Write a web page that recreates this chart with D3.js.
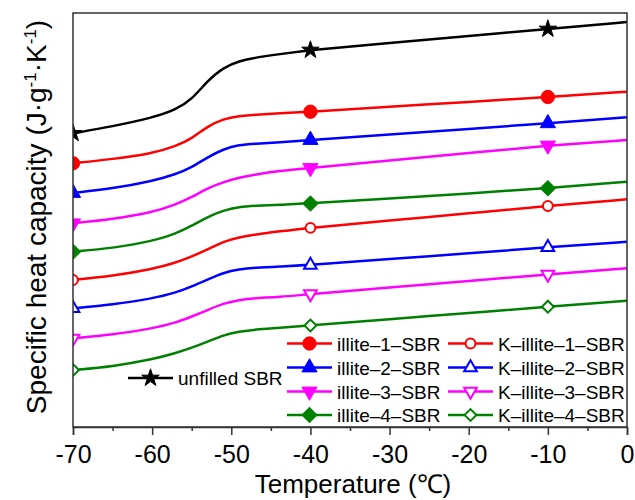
<!DOCTYPE html>
<html>
<head>
<meta charset="utf-8">
<script src="https://cdn.jsdelivr.net/npm/d3@7"></script>
<style>
  body { margin: 0; background: #fff; }
  text { font-family: Arial, "Liberation Sans", sans-serif; }
</style>
</head>
<body>
<div id="chart"></div>
<script>
const temps = [-70, -65, -60, -57, -55, -53, -51, -49, -47, -44, -40, -30, -20, -10, 0];
// specific heat capacity, arbitrary offset units (curves are stacked)
const unfilledSBR = [2.937, 3.006, 3.092, 3.172, 3.274, 3.462, 3.595, 3.66, 3.694, 3.727, 3.77, 3.84, 3.91, 3.98, 4.05];
const illite1 = [2.637, 2.679, 2.735, 2.808, 2.884, 3.007, 3.081, 3.109, 3.123, 3.137, 3.153, 3.202, 3.251, 3.30, 3.353];
const illite2 = [2.34, 2.384, 2.458, 2.528, 2.596, 2.698, 2.779, 2.823, 2.833, 2.847, 2.87, 2.926, 2.981, 3.037, 3.097];
const illite3 = [2.037, 2.079, 2.145, 2.225, 2.297, 2.389, 2.448, 2.495, 2.525, 2.56, 2.59, 2.665, 2.74, 2.815, 2.87];
const illite4 = [1.753, 1.788, 1.858, 1.933, 2.012, 2.10, 2.167, 2.201, 2.211, 2.224, 2.235, 2.286, 2.336, 2.387, 2.453];
const kIllite1 = [1.47, 1.51, 1.578, 1.643, 1.705, 1.774, 1.854, 1.898, 1.925, 1.956, 1.992, 2.065, 2.137, 2.21, 2.277];
const kIllite2 = [1.187, 1.224, 1.284, 1.343, 1.405, 1.474, 1.544, 1.578, 1.593, 1.605, 1.62, 1.679, 1.738, 1.797, 1.853];
const kIllite3 = [0.887, 0.924, 0.984, 1.043, 1.105, 1.169, 1.237, 1.271, 1.29, 1.299, 1.33, 1.396, 1.461, 1.527, 1.587];
const kIllite4 = [0.57, 0.605, 0.675, 0.74, 0.792, 0.852, 0.92, 0.954, 0.975, 0.99, 1.015, 1.078, 1.14, 1.203, 1.263];

const markerTemps = [-70, -40, -10];
const xTicks = [-70, -60, -50, -40, -30, -20, -10, 0];
const xMinorTicks = [-65, -55, -45, -35, -25, -15, -5];

const seriesNames = ["unfilled SBR", "illite\u20131\u2013SBR", "illite\u20132\u2013SBR", "illite\u20133\u2013SBR", "illite\u20134\u2013SBR",
    "K\u2013illite\u20131\u2013SBR", "K\u2013illite\u20132\u2013SBR", "K\u2013illite\u20133\u2013SBR", "K\u2013illite\u20134\u2013SBR"];
const seriesValues = [unfilledSBR, illite1, illite2, illite3, illite4, kIllite1, kIllite2, kIllite3, kIllite4];
const seriesColors = ["#000000", "#ff0000", "#0000ff", "#ff00ff", "#008000", "#ff0000", "#0000ff", "#ff00ff", "#008000"];
const seriesMarkers = ["star", "circle", "triangle", "triangleDown", "diamond", "circle", "triangle", "triangleDown", "diamond"];
const seriesFilled = [true, true, true, true, true, false, false, false, false];

const W = 635, H = 500;
const margin = {top: 13, right: 8, bottom: 73, left: 73};
const width = W - margin.left - margin.right;
const height = H - margin.top - margin.bottom;

var svg = d3.select("#chart").append("svg")
    .attr("width", W)
    .attr("height", H);

var xScale = d3.scaleLinear().domain([-70, 0]).range([0, width]);
var yScale = d3.scaleLinear().domain([0, 4.14]).range([height, 0]);

var g = svg.append("g")
    .attr("transform", "translate(" + margin.left + "," + margin.top + ")");

g.append("clipPath").attr("id", "plotclip")
    .append("rect").attr("x", 0).attr("y", 0).attr("width", width).attr("height", height);

function markerPath(type, filled) {
    var sym, size;
    if (type == "star") { sym = d3.symbolStar; size = 95; }
    else if (type == "circle") { sym = d3.symbolCircle; size = filled ? 140 : 75; }
    else if (type == "triangle" || type == "triangleDown") { sym = d3.symbolTriangle; size = filled ? 100 : 70; }
    else { sym = d3.symbolSquare; size = filled ? 115 : 70; }
    return d3.symbol().type(sym).size(size)();
}
function markerRotate(type) {
    if (type == "triangleDown") return 180;
    if (type == "diamond") return 45;
    return 0;
}

var line = d3.line()
    .x(function(d) { return xScale(d[0]); })
    .y(function(d) { return yScale(d[1]); })
    .curve(d3.curveBasis);

var plot = g.append("g").attr("clip-path", "url(#plotclip)");

seriesValues.forEach(function(vals, i) {
    var pts = temps.map(function(t, j) { return [t, vals[j]]; });
    plot.append("path")
        .datum(pts)
        .attr("fill", "none")
        .attr("stroke", seriesColors[i])
        .attr("stroke-width", 2.5)
        .attr("d", line);

    var mk = pts.filter(function(p) { return markerTemps.indexOf(p[0]) >= 0; });
    plot.selectAll(".mk" + i).data(mk).enter().append("path")
        .attr("class", "mk" + i)
        .attr("d", markerPath(seriesMarkers[i], seriesFilled[i]))
        .attr("transform", function(d) {
            return "translate(" + xScale(d[0]) + "," + yScale(d[1]) + ") rotate(" + markerRotate(seriesMarkers[i]) + ")";
        })
        .attr("fill", seriesFilled[i] ? seriesColors[i] : "#fff")
        .attr("stroke", seriesColors[i])
        .attr("stroke-width", seriesFilled[i] ? 1 : 2);
});

// frame
g.append("rect")
    .attr("x", 0).attr("y", 0)
    .attr("width", width).attr("height", height)
    .attr("fill", "none")
    .attr("stroke", "#333")
    .attr("stroke-width", 1.5);

// x axis
var xAxis = d3.axisBottom(xScale).tickValues(xTicks).tickSize(8).tickPadding(10)
    .tickFormat(function(d) { return d.toString(); });
var xg = g.append("g")
    .attr("transform", "translate(0," + height + ")")
    .call(xAxis);
xg.select(".domain").attr("stroke", "#333").attr("stroke-width", 1.5);
xg.selectAll(".tick line").attr("stroke", "#333").attr("stroke-width", 1.5);
xg.selectAll(".tick text")
    .attr("fill", "#000")
    .style("font-size", "25px")
    .style("font-family", "Arial, 'Liberation Sans', sans-serif");

var xMinor = d3.axisBottom(xScale).tickValues(xMinorTicks).tickSize(4).tickFormat("");
var xmg = g.append("g")
    .attr("transform", "translate(0," + height + ")")
    .call(xMinor);
xmg.select(".domain").remove();
xmg.selectAll(".tick line").attr("stroke", "#333").attr("stroke-width", 1.5);

// axis titles
svg.append("text")
    .attr("x", margin.left + width / 2 + 3)
    .attr("y", 493)
    .attr("text-anchor", "middle")
    .style("font-size", "26px")
    .text("Temperature (\u2103)");

var yTitle = svg.append("text")
    .attr("transform", "translate(46,217) rotate(-90)")
    .attr("text-anchor", "middle")
    .style("font-size", "28px");
yTitle.append("tspan").text("Specific heat capacity (J\u00b7g");
yTitle.append("tspan").attr("dy", -10).style("font-size", "17px").text("-1");
yTitle.append("tspan").attr("dy", 10).text("\u00b7K");
yTitle.append("tspan").attr("dy", -10).style("font-size", "17px").text("-1");
yTitle.append("tspan").attr("dy", 10).text(")");

// legend
var legendItems = [
    {i: 0, x: 128, y: 378},
    {i: 1, x: 287, y: 343.5}, {i: 2, x: 287, y: 367.5}, {i: 3, x: 287, y: 391.5}, {i: 4, x: 287, y: 415},
    {i: 5, x: 448, y: 343.5}, {i: 6, x: 448, y: 367.5}, {i: 7, x: 448, y: 391.5}, {i: 8, x: 448, y: 415}
];
var legend = svg.append("g").attr("class", "legend");
legendItems.forEach(function(it) {
    var i = it.i;
    var lg = legend.append("g").attr("transform", "translate(" + it.x + "," + it.y + ")");
    lg.append("line").attr("x1", 0).attr("x2", 45).attr("y1", 0).attr("y2", 0)
        .attr("stroke", seriesColors[i]).attr("stroke-width", 2.5);
    lg.append("path")
        .attr("d", markerPath(seriesMarkers[i], seriesFilled[i]))
        .attr("transform", "translate(22.5,0) rotate(" + markerRotate(seriesMarkers[i]) + ")")
        .attr("fill", seriesFilled[i] ? seriesColors[i] : "#fff")
        .attr("stroke", seriesColors[i])
        .attr("stroke-width", seriesFilled[i] ? 1 : 2);
    lg.append("text")
        .attr("x", 50).attr("y", 7)
        .style("font-size", "19px")
        .text(seriesNames[i]);
});
</script>
</body>
</html>
